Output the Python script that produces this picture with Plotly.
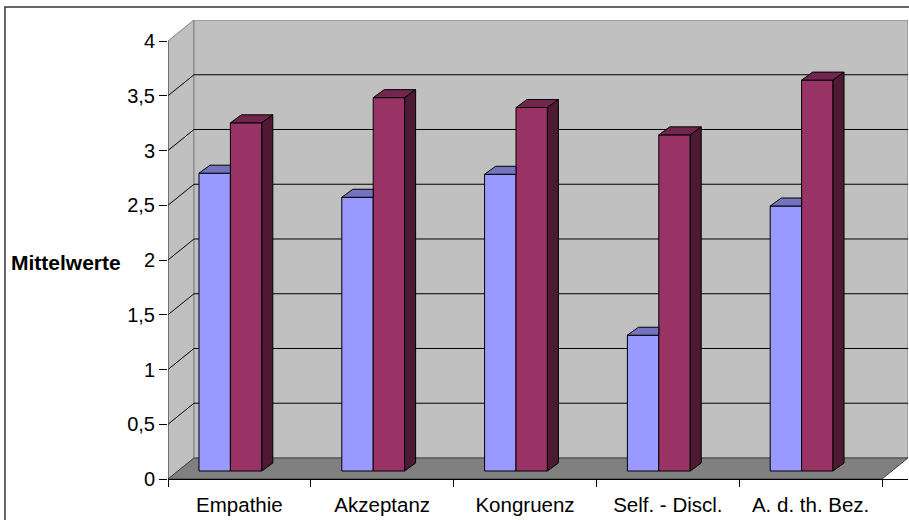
import plotly.graph_objects as go

# ---------------- data ----------------
categories = ["Empathie", "Akzeptanz", "Kongruenz", "Self. - Discl.", "A. d. th. Bez."]
series_1 = [2.72, 2.50, 2.71, 1.24, 2.42]
series_2 = [3.18, 3.41, 3.32, 3.07, 3.57]
y_tick_values = [0, 0.5, 1, 1.5, 2, 2.5, 3, 3.5, 4]
y_tick_labels = ["0", "0,5", "1", "1,5", "2", "2,5", "3", "3,5", "4"]
y_title = "Mittelwerte"

# ---------------- style / geometry ----------------
FONT = "Liberation Sans, Arial, sans-serif"
WALL = "#C0C0C0"
FLOOR = "#808080"
EDGE = "#808080"
C1_FRONT, C1_TOP = "#9999FF", "#7373BF"
C2_FRONT, C2_TOP, C2_SIDE = "#993366", "#73264D", "#4D1933"

N = len(categories)
Y_MAX = 4
DX, DY = 0.182, 0.192          # depth of the walls (in axis units)
BAR_DX, BAR_DY = 0.077, 0.073  # depth of a bar
BASE = 0.073                   # bar plane lift
BAR_W = 0.22
OFF_1, OFF_2 = 0.327, 0.547

fig = go.Figure()

idx = list(range(N))
x1 = [i + OFF_1 for i in idx]
x2 = [i + OFF_2 for i in idx]

fig.add_trace(go.Bar(x=x1, y=series_1, base=BASE, width=BAR_W,
                     marker=dict(color=C1_FRONT, line=dict(color="black", width=1)),
                     hoverinfo="skip", showlegend=False))
fig.add_trace(go.Bar(x=x2, y=series_2, base=BASE, width=BAR_W,
                     marker=dict(color=C2_FRONT, line=dict(color="black", width=1)),
                     hoverinfo="skip", showlegend=False))

def poly_trace(polys, color):
    xs, ys = [], []
    for p in polys:
        for (a, b) in p + [p[0]]:
            xs.append(a); ys.append(b)
        xs.append(None); ys.append(None)
    return go.Scatter(x=xs, y=ys, mode="lines", fill="toself", fillcolor=color,
                      line=dict(color="black", width=1), hoverinfo="skip",
                      showlegend=False)

# tops of series 1 (partly hidden behind series 2)
tops1 = []
for xc, v in zip(x1, series_1):
    l, r, t = xc - BAR_W / 2, xc + BAR_W / 2, BASE + v
    tops1.append([(l, t), (r, t), (r, t + BAR_DY), (l + BAR_DX, t + BAR_DY)])
tops2, sides2 = [], []
for xc, v in zip(x2, series_2):
    l, r, t = xc - BAR_W / 2, xc + BAR_W / 2, BASE + v
    tops2.append([(l, t), (r, t), (r + BAR_DX, t + BAR_DY), (l + BAR_DX, t + BAR_DY)])
    sides2.append([(r, BASE), (r, t), (r + BAR_DX, t + BAR_DY), (r + BAR_DX, BASE + BAR_DY)])

fig.add_trace(poly_trace(tops1, C1_TOP))
fig.add_trace(poly_trace(tops2, C2_TOP))
fig.add_trace(poly_trace(sides2, C2_SIDE))

shapes = []
# left wall
shapes.append(dict(type="path", xref="x", yref="y", layer="below",
                   path=f"M 0,0 L 0,{Y_MAX} L {DX},{Y_MAX+DY} L {DX},{DY} Z",
                   fillcolor=WALL, line=dict(color=EDGE, width=1)))
# back wall
shapes.append(dict(type="rect", xref="x", yref="y", layer="below",
                   x0=DX, x1=N + DX, y0=DY, y1=Y_MAX + DY,
                   fillcolor=WALL, line=dict(color=EDGE, width=1)))
# floor
shapes.append(dict(type="path", xref="x", yref="y", layer="below",
                   path=f"M 0,0 L {N},0 L {N+DX},{DY} L {DX},{DY} Z",
                   fillcolor=FLOOR, line=dict(color="#404040", width=1)))
# gridlines
for v in y_tick_values[1:-1]:
    shapes.append(dict(type="line", xref="x", yref="y", layer="below",
                       x0=DX, x1=N + DX, y0=v + DY, y1=v + DY,
                       line=dict(color="black", width=1)))
    shapes.append(dict(type="line", xref="x", yref="y", layer="below",
                       x0=0, x1=DX, y0=v, y1=v + DY,
                       line=dict(color="black", width=1)))
# front left edge
shapes.append(dict(type="line", xref="x", yref="y", layer="below",
                   x0=0, x1=0, y0=0, y1=Y_MAX, line=dict(color="#404040", width=1)))
# outer frame
shapes.append(dict(type="rect", xref="paper", yref="paper",
                   x0=-0.2203, x1=1.1, y0=-0.3, y1=1.0283,
                   line=dict(color="#333333", width=1.5), fillcolor="rgba(0,0,0,0)"))

fig.update_layout(
    width=909, height=520,
    margin=dict(l=168, r=1, t=20, b=41),
    paper_bgcolor="white", plot_bgcolor="white",
    barmode="overlay",
    shapes=shapes,
    font=dict(family=FONT, size=20, color="black"),
    xaxis=dict(range=[0, N + DX], showgrid=False, zeroline=False,
               tickvals=[i + 0.5 for i in idx], ticktext=categories,
               ticks="", showline=True, linecolor="black", linewidth=1,
               ticklabelstandoff=7,
               minor=dict(tickvals=list(range(N + 1)), ticks="outside",
                          ticklen=7, tickcolor="black", tickwidth=1),
               tickfont=dict(size=20.5), fixedrange=True),
    yaxis=dict(range=[0, Y_MAX + DY], showgrid=False, zeroline=False,
               tickvals=y_tick_values, ticktext=y_tick_labels,
               ticks="outside", ticklen=8, tickcolor="black", tickwidth=1,
               tickfont=dict(size=20), fixedrange=True),
    annotations=[dict(text=f"<b>{y_title}</b>", xref="paper", yref="paper",
                      x=-0.138, y=0.4706, xanchor="center", yanchor="middle",
                      showarrow=False, font=dict(size=21, family=FONT))],
)

fig.write_html("out.html")
